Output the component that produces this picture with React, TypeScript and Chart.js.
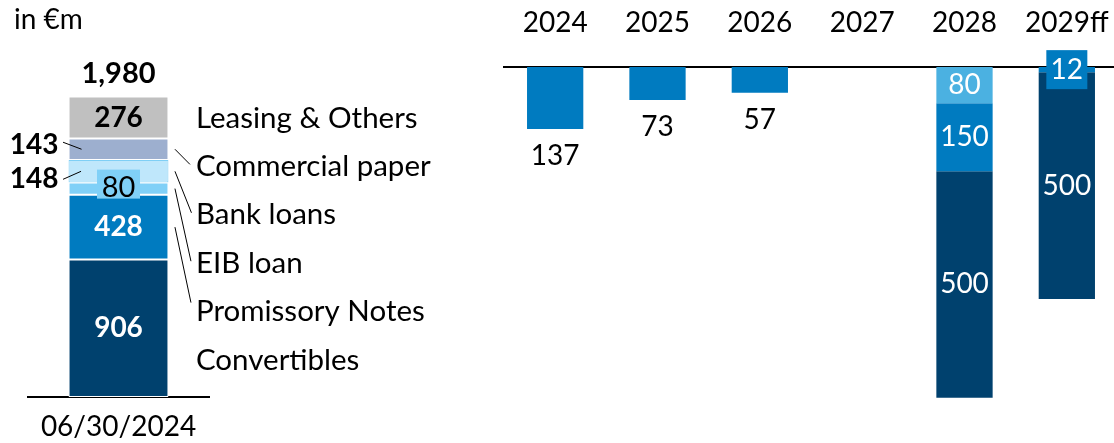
import React, { useEffect, useRef } from "react";
import { Chart, registerables } from "chart.js";

Chart.register(...registerables);

const FONT = "Lato, 'Open Sans', sans-serif";

// ---- Left panel: financial debt structure ----
const structureCategories = ["06/30/2024"];
const instrumentNames = [
  "Convertibles",
  "Promissory Notes",
  "EIB loan",
  "Bank loans",
  "Commercial paper",
  "Leasing & Others",
];
const structureValues = [906, 428, 80, 148, 143, 276];
const structureValueLabels = ["906", "428", "80", "148", "143", "276"];
const structureTotalLabel = "1,980";
const unitLabel = "in €m";

// ---- Right panel: maturity profile ----
const maturityYears = ["2024", "2025", "2026", "2027", "2028", "2029ff"];
const maturityEIB = [0, 0, 0, 0, 80, 0];
const maturityPromissory = [137, 73, 57, 0, 150, 12];
const maturityConvertibles = [0, 0, 0, 0, 500, 500];

const C_CONV = "#00416E";
const C_PROM = "#007BC0";
const C_EIB = "#80D0F7";
const C_BANK = "#BFE7FB";
const C_CP = "#9DAFCF";
const C_LEAS = "#C0C0C0";
const C_EIB_RIGHT = "#4BB1E1";
const structureColors = [C_CONV, C_PROM, C_EIB, C_BANK, C_CP, C_LEAS];

function drawText(
  ctx: CanvasRenderingContext2D,
  s: string,
  x: number,
  y: number,
  opts: { bold?: boolean; color?: string; align?: CanvasTextAlign; size?: number } = {}
) {
  ctx.save();
  ctx.font = `${opts.bold ? "bold " : ""}${opts.size || 28}px ${FONT}`;
  ctx.fillStyle = opts.color || "#000";
  ctx.textAlign = opts.align || "center";
  ctx.textBaseline = "middle";
  ctx.fillText(s, x, y);
  ctx.restore();
}

function line(ctx: CanvasRenderingContext2D, x1: number, y1: number, x2: number, y2: number) {
  ctx.save();
  ctx.strokeStyle = "#000";
  ctx.lineWidth = 1;
  ctx.beginPath();
  ctx.moveTo(x1, y1);
  ctx.lineTo(x2, y2);
  ctx.stroke();
  ctx.restore();
}

const leftLabelsPlugin = {
  id: "leftLabels",
  afterDraw(chart: any) {
    const ctx = chart.ctx as CanvasRenderingContext2D;
    const seg = (i: number) => {
      const el = chart.getDatasetMeta(i).data[0];
      const top = Math.min(el.y, el.base);
      const bottom = Math.max(el.y, el.base);
      return {
        x: el.x,
        top,
        bottom,
        cy: (top + bottom) / 2,
        left: el.x - el.width / 2,
        right: el.x + el.width / 2,
      };
    };
    const s = instrumentNames.map((_, i) => seg(i));
    // unit
    drawText(ctx, unitLabel, 14, 20, { align: "left" });
    // in-bar labels
    drawText(ctx, structureValueLabels[0], s[0].x, s[0].cy, { bold: true, color: "#fff" });
    drawText(ctx, structureValueLabels[1], s[1].x, s[1].cy, { bold: true, color: "#fff" });
    // EIB box
    ctx.save();
    ctx.fillStyle = C_EIB;
    ctx.fillRect(s[2].x - 21.5, s[2].cy - 19, 43, 29);
    ctx.restore();
    drawText(ctx, structureValueLabels[2], s[2].x, s[2].cy - 1, { size: 29 });
    // Bank loans / Commercial paper labels on the left
    drawText(ctx, structureValueLabels[3], s[3].left - 10, s[3].cy + 8, { bold: true, align: "right" });
    line(ctx, s[3].left - 5.5, s[3].cy + 8, s[3].left + 12.5, s[3].cy);
    drawText(ctx, structureValueLabels[4], s[4].left - 10, s[4].cy - 4, { bold: true, align: "right" });
    line(ctx, s[4].left - 5.5, s[4].cy - 7, s[4].left + 13, s[4].cy);
    drawText(ctx, structureValueLabels[5], s[5].x, s[5].cy, { bold: true });
    // total
    drawText(ctx, structureTotalLabel, s[5].x, s[5].top - 23, { bold: true, size: 29 });
    // legend labels
    const right = s[0].right;
    const lx = right + 27.5;
    const order = [5, 4, 3, 2, 1, 0];
    const ly: number[] = [];
    order.forEach((idx, k) => {
      const y = 118 + k * 48.4;
      ly[idx] = y;
      drawText(ctx, instrumentNames[idx], lx, y, { align: "left", size: 29.5 });
    });
    line(ctx, right + 6.5, s[4].cy, right + 21.5, ly[4] - 2);
    line(ctx, right + 6.5, s[3].cy, right + 23, ly[3] - 2);
    line(ctx, right + 6.5, s[2].cy, right + 22.5, ly[2] - 2);
    line(ctx, right + 6.5, s[1].cy, right + 22.5, ly[1] - 9);
  },
};

const rightLabelsPlugin = {
  id: "rightLabels",
  afterDatasetsDraw(chart: any) {
    const ctx = chart.ctx as CanvasRenderingContext2D;
    const nData = chart.data.datasets.length;
    maturityYears.forEach((_, j) => {
      const segs: any[] = [];
      for (let d = 0; d < nData; d++) {
        const v = chart.data.datasets[d].data[j] as number;
        if (!v) continue;
        const el = chart.getDatasetMeta(d).data[j] as any;
        const top = Math.min(el.y, el.base);
        const bottom = Math.max(el.y, el.base);
        segs.push({ v, x: el.x, top, bottom, cy: (top + bottom) / 2, color: chart.data.datasets[d].backgroundColor });
      }
      if (segs.length === 1) {
        const sg = segs[0];
        drawText(ctx, String(sg.v), sg.x, sg.bottom + 27);
      } else {
        segs.forEach((sg) => {
          if (sg.bottom - sg.top < 20) {
            ctx.save();
            ctx.fillStyle = sg.color;
            ctx.fillRect(sg.x - 20.5, sg.cy - 19.5, 41, 39);
            ctx.restore();
          }
          drawText(ctx, String(sg.v), sg.x, sg.cy, { color: "#fff" });
        });
      }
    });
  },
};

export default function App() {
  const leftRef = useRef<HTMLCanvasElement>(null);
  const rightRef = useRef<HTMLCanvasElement>(null);

  useEffect(() => {
    const left = new Chart(leftRef.current!, {
      type: "bar",
      data: {
        labels: structureCategories,
        datasets: instrumentNames.map((name, i) => ({
          label: name,
          data: [structureValues[i]],
          backgroundColor: structureColors[i],
          borderColor: i === 3 ? "#7FCFF5" : "#FFFFFF",
          borderWidth: 1,
          borderSkipped: false,
          barPercentage: 0.552,
          categoryPercentage: 1,
        })),
      },
      options: {
        responsive: false,
        devicePixelRatio: 1,
        animation: false,
        layout: { padding: { left: 28, right: 261, top: 33, bottom: -14 } },
        plugins: { legend: { display: false }, tooltip: { enabled: false } },
        scales: {
          x: {
            stacked: true,
            grid: { display: false, drawTicks: false, tickLength: 0 },
            border: { display: true, color: "#000", width: 2 },
            ticks: { color: "#000", font: { family: FONT, size: 28, lineHeight: 1.286 }, padding: 12 },
          },
          y: { stacked: true, display: false, min: 0, max: 2400 },
        },
      },
      plugins: [leftLabelsPlugin],
    } as any);

    const right = new Chart(rightRef.current!, {
      type: "bar",
      data: {
        labels: maturityYears,
        datasets: [
          { label: "EIB loan", data: maturityEIB, backgroundColor: C_EIB_RIGHT },
          { label: "Promissory Notes", data: maturityPromissory, backgroundColor: C_PROM },
          { label: "Convertibles", data: maturityConvertibles, backgroundColor: C_CONV },
        ].map((d) => ({ ...d, borderWidth: 0, barPercentage: 0.55, categoryPercentage: 1 })),
      },
      options: {
        responsive: false,
        devicePixelRatio: 1,
        animation: false,
        layout: { padding: { left: 34, right: 0, top: -20.6, bottom: 0 } },
        plugins: { legend: { display: false }, tooltip: { enabled: false } },
        scales: {
          x: {
            position: "top",
            stacked: true,
            grid: { display: false, drawTicks: false, tickLength: 0 },
            border: { display: true, color: "#000", width: 2 },
            ticks: { color: "#000", font: { family: FONT, size: 28, lineHeight: 2.84 }, padding: 4 },
          },
          y: { stacked: true, display: false, reverse: true, min: 0, max: 830 },
        },
      },
      plugins: [rightLabelsPlugin],
    } as any);

    return () => {
      left.destroy();
      right.destroy();
    };
  }, []);

  return (
    <div style={{ position: "fixed", left: 0, top: 0, width: 1114, height: 443, background: "#fff", overflow: "hidden" }}>
      <canvas ref={leftRef} width={470} height={443} style={{ position: "absolute", left: 0, top: 0, width: 470, height: 443 }} />
      <canvas ref={rightRef} width={648} height={443} style={{ position: "absolute", left: 470, top: 0, width: 648, height: 443 }} />
    </div>
  );
}
